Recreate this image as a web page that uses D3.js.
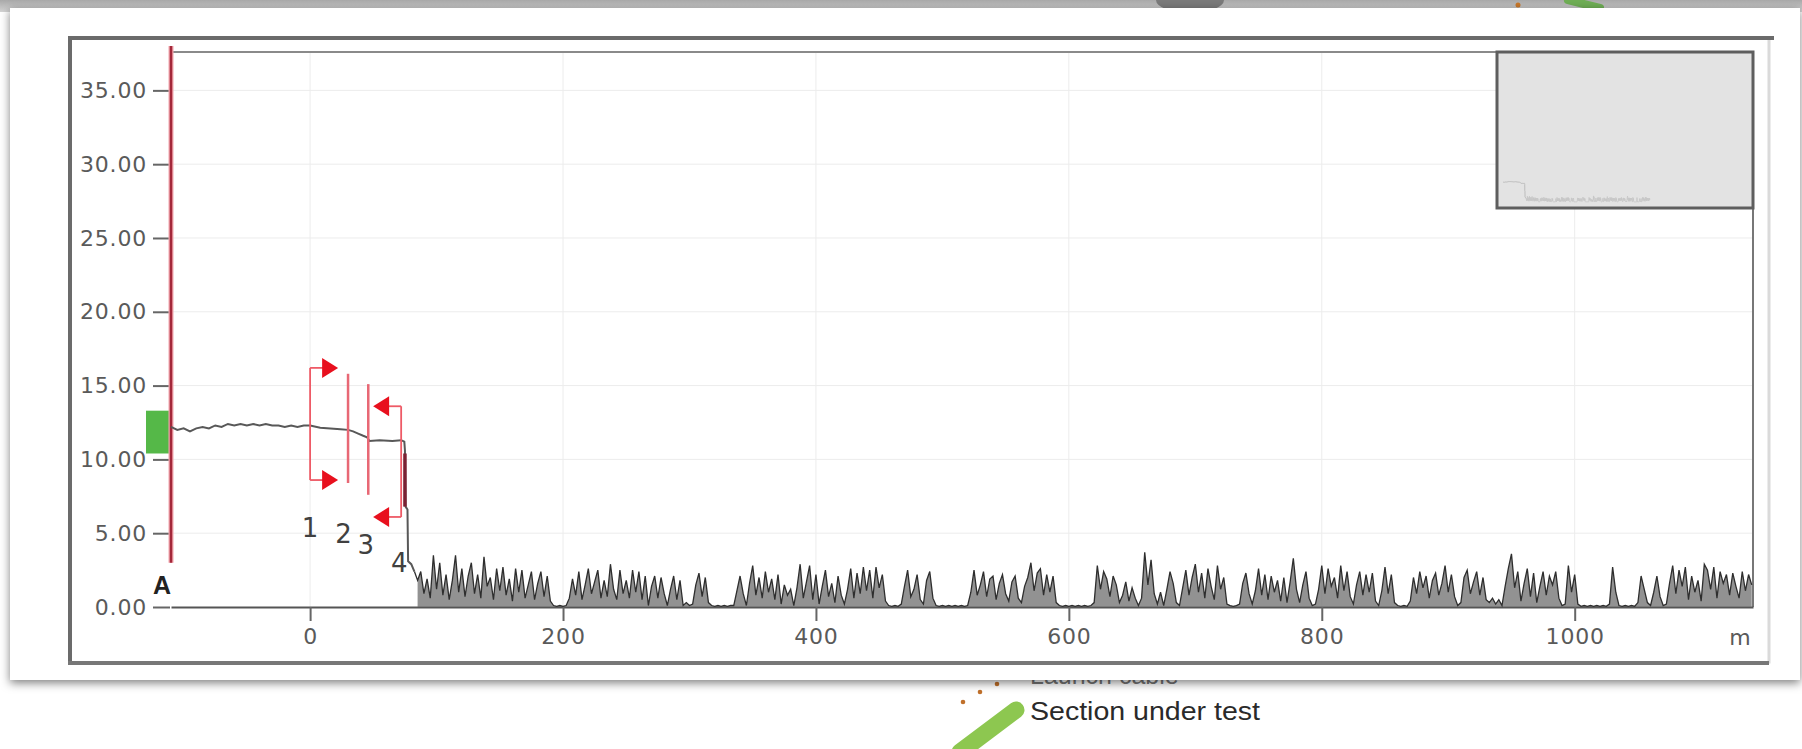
<!DOCTYPE html>
<html>
<head>
<meta charset="utf-8">
<script src="https://cdn.jsdelivr.net/npm/d3@7"></script>
<style>
  body { margin: 0; background: #fff; }
  svg { display: block; }
</style>
</head>
<body>
<script>
const canvWidth = 1802, canvHeight = 749;
const plot = {left: 171, right: 1753, top: 52, bottom: 607};

// axis ticks
const yTicks = [0, 5, 10, 15, 20, 25, 30, 35];
const xTicks = [0, 200, 400, 600, 800, 1000];

// fibre trace (m, dB) up to the end event
const traceX = [-110, -105, -100, -95, -90, -85, -80, -75, -70, -65, -60, -55, -50, -45, -40, -35, -30, -25, -20, -15, -10, -5, 0,
                8, 16, 24, 30, 34, 38, 42, 45, 47, 55, 65, 72, 74.5, 75, 75.5, 77, 77.5, 80, 82.5];
const traceY = [12.2, 12.0, 12.1, 11.9, 12.1, 12.2, 12.1, 12.3, 12.2, 12.4, 12.3, 12.4, 12.3, 12.4, 12.3, 12.4, 12.3, 12.3, 12.2, 12.3, 12.2, 12.3, 12.3,
                12.15, 12.1, 12.05, 12.0, 11.9, 11.75, 11.6, 11.5, 11.25, 11.3, 11.25, 11.3, 11.2, 10.6, 6.8, 6.6, 3.1, 2.9, 2.4];

// noise after the fibre end, one reading every 2.5 m from 85 m
const noiseStart = 85, noiseStep = 2.5;
const noiseY = [
  1.8, 2.4, 0.9, 1.9, 0.6, 3.5, 1.2, 3.0, 0.8, 2.2, 0.5, 1.8, 3.5, 1.0, 2.6, 0.7, 2.1, 3.0, 0.9, 2.2,
  0.6, 3.4, 1.4, 2.0, 0.5, 2.6, 1.1, 2.7, 0.8, 1.9, 0.4, 2.6, 1.0, 2.5, 0.6, 1.5, 2.4, 0.5, 1.6, 2.4,
  0.7, 2.1, 0.4, 0.1, 0.05, 0.1, 0.05, 0.1, 0.6, 1.9, 0.8, 2.4, 0.5, 1.5, 2.6, 0.9, 1.7, 2.5, 0.6, 1.8,
  0.7, 2.9, 1.2, 0.5, 2.5, 0.9, 1.8, 0.6, 2.5, 1.0, 2.4, 0.5, 2.1, 0.1, 1.4, 2.1, 0.6, 2.0, 0.9, 0.1,
  1.2, 2.1, 0.5, 1.8, 0.1, 0.3, 0.1, 0.2, 1.5, 2.3, 0.7, 2.0, 0.3, 0.1, 0.05, 0.1, 0.05, 0.1, 0.05, 0.1,
  0.1, 1.1, 2.1, 0.9, 0.1, 1.6, 2.8, 0.8, 2.0, 0.6, 2.4, 1.0, 1.9, 0.5, 2.2, 0.2, 1.5, 0.8, 1.2, 0.1,
  1.3, 2.9, 0.6, 1.7, 2.8, 0.5, 2.2, 0.2, 1.4, 2.5, 0.7, 1.6, 0.3, 2.1, 0.8, 0.2, 1.2, 2.6, 0.6, 2.3,
  0.9, 2.7, 1.1, 2.5, 0.6, 2.7, 1.3, 2.2, 0.4, 0.1, 0.05, 0.1, 0.05, 0.2, 1.4, 2.5, 0.7, 1.2, 2.2, 0.5,
  0.2, 1.8, 2.4, 0.6, 0.1, 0.05, 0.1, 0.05, 0.1, 0.05, 0.1, 0.05, 0.1, 0.05, 0.1, 1.0, 2.5, 0.8, 1.5, 2.4,
  0.7, 1.9, 2.1, 0.5, 1.6, 2.2, 0.9, 0.4, 1.7, 2.1, 0.6, 0.3, 1.4, 2.0, 3.0, 1.1, 2.3, 2.6, 0.8, 2.2,
  1.0, 2.1, 0.3, 0.1, 0.05, 0.1, 0.05, 0.1, 0.05, 0.1, 0.05, 0.1, 0.05, 0.1, 0.3, 2.8, 1.2, 2.4, 1.9, 0.7,
  2.1, 1.5, 0.3, 0.8, 1.7, 0.4, 1.3, 0.6, 0.1, 0.6, 3.7, 1.5, 3.2, 0.9, 0.2, 1.0, 0.1, 1.2, 2.4, 1.6,
  0.3, 0.1, 1.3, 2.5, 0.8, 2.0, 2.9, 1.0, 2.3, 0.6, 2.6, 1.4, 0.5, 2.8, 1.2, 2.0, 0.2, 0.1, 0.05, 0.1,
  0.2, 1.6, 2.3, 0.9, 0.2, 1.1, 2.6, 0.8, 2.2, 0.5, 2.1, 1.0, 1.8, 0.4, 2.0, 0.3, 1.7, 3.3, 1.2, 0.3,
  1.5, 2.4, 0.6, 0.1, 0.2, 1.2, 2.8, 0.9, 2.6, 1.4, 2.0, 0.6, 2.8, 1.1, 2.4, 0.7, 0.2, 1.5, 2.4, 0.8,
  2.2, 1.0, 2.3, 0.4, 0.1, 1.1, 2.7, 0.9, 2.2, 0.3, 0.1, 0.05, 0.1, 0.05, 0.4, 2.0, 0.9, 2.4, 1.3, 2.1,
  0.6, 1.8, 2.3, 0.8, 1.6, 2.8, 1.0, 2.2, 0.7, 0.1, 0.3, 2.0, 2.5, 0.9, 1.7, 2.4, 0.8, 2.0, 0.5, 0.3,
  0.6, 0.2, 0.5, 0.1, 1.4, 2.6, 3.6, 1.3, 2.4, 0.4, 1.6, 2.6, 0.7, 2.3, 0.3, 1.4, 2.4, 0.8, 2.1, 1.5,
  2.4, 0.6, 0.1, 0.2, 2.8, 1.0, 2.2, 0.2, 0.05, 0.1, 0.05, 0.1, 0.05, 0.1, 0.05, 0.1, 0.05, 0.2, 2.7, 1.0,
  0.1, 0.05, 0.1, 0.05, 0.1, 0.05, 0.3, 2.1, 1.2, 0.3, 0.1, 1.0, 2.1, 0.7, 0.1, 0.2, 1.6, 2.8, 0.9, 2.5,
  1.4, 2.7, 0.5, 2.1, 1.0, 1.8, 0.4, 2.9, 2.5, 1.2, 2.7, 0.6, 2.4, 1.6, 2.2, 0.8, 2.3, 1.4, 0.6, 2.4,
  1.1, 2.2, 1.5
];

// event markers
const markerX = [0, 30, 46, 72];
const markerTop = [16.2, 15.8, 15.1, 13.6];
const markerBottom = [8.6, 8.4, 7.6, 6.1];
const markerType = ["open", "line", "line", "close"];
const labelText = ["1", "2", "3", "4"];
const labelX = [0, 26.5, 44, 70.5];
const labelY = [5.4, 5.0, 4.2, 3.0];

// launch marker box (dB) and end event segment
const launchBox = [10.4, 13.3];
const endEventX = 75, endEventY = [10.4, 6.8];

const svg = d3.select("body").append("svg")
    .attr("width", canvWidth)
    .attr("height", canvHeight);

const defs = svg.append("defs");
const grad = defs.append("linearGradient").attr("id", "strip").attr("x1", 0).attr("y1", 0).attr("x2", 0).attr("y2", 1);
grad.append("stop").attr("offset", 0).attr("stop-color", "#a9a9a9");
grad.append("stop").attr("offset", 1).attr("stop-color", "#d4d4d4");
const shadow = defs.append("filter").attr("id", "shadow")
    .attr("x", "-5%").attr("y", "-5%").attr("width", "110%").attr("height", "115%");
shadow.append("feDropShadow").attr("dx", 0).attr("dy", 3).attr("stdDeviation", 5)
    .attr("flood-color", "#000").attr("flood-opacity", 0.5);

// page behind the card
svg.append("rect").attr("width", canvWidth).attr("height", 12).attr("fill", "url(#strip)");
svg.append("ellipse").attr("cx", 1190).attr("cy", 0).attr("rx", 34).attr("ry", 13).attr("fill", "#7a7a7a");
svg.append("circle").attr("cx", 1518).attr("cy", 5).attr("r", 2.5).attr("fill", "#c8782a");
svg.append("line").attr("x1", 1568).attr("y1", 0).attr("x2", 1600).attr("y2", 8)
    .attr("stroke", "#6fae55").attr("stroke-width", 8).attr("stroke-linecap", "round");

svg.append("text").attr("x", 1030).attr("y", 684)
    .attr("font-family", "Liberation Sans, Arial, sans-serif").attr("font-size", "25px")
    .attr("fill", "#777").text("Launch cable");
svg.append("line").attr("x1", 960).attr("y1", 752).attr("x2", 1016).attr("y2", 710)
    .attr("stroke", "#8dc750").attr("stroke-width", 17).attr("stroke-linecap", "round");
[[963, 702], [980, 692], [997, 684]].forEach(p =>
    svg.append("circle").attr("cx", p[0]).attr("cy", p[1]).attr("r", 2.3).attr("fill", "#c0702a"));
svg.append("text").attr("x", 1030).attr("y", 720)
    .attr("font-family", "Liberation Sans, Arial, sans-serif").attr("font-size", "25px")
    .attr("textLength", 230).attr("lengthAdjust", "spacingAndGlyphs")
    .attr("fill", "#2a2a2a").text("Section under test");

// white card
svg.append("rect").attr("x", 10).attr("y", 8).attr("width", 1790).attr("height", 672)
    .attr("fill", "#fff").attr("filter", "url(#shadow)");

// outer frame
const frame = svg.append("g").attr("stroke-linecap", "square");
frame.append("line").attr("x1", 1769).attr("y1", 40).attr("x2", 1769).attr("y2", 662).attr("stroke", "#dadada").attr("stroke-width", 3);
frame.append("line").attr("x1", 70).attr("y1", 38).attr("x2", 1772).attr("y2", 38).attr("stroke", "#6b6b6b").attr("stroke-width", 4);
frame.append("line").attr("x1", 70).attr("y1", 38).attr("x2", 70).attr("y2", 663).attr("stroke", "#6b6b6b").attr("stroke-width", 4);
frame.append("line").attr("x1", 70).attr("y1", 663).attr("x2", 1767).attr("y2", 663).attr("stroke", "#777").attr("stroke-width", 4);

const x = d3.scaleLinear().domain([-110, 1141]).range([plot.left, plot.right]);
const y = d3.scaleLinear().domain([0, 37.6]).range([plot.bottom, plot.top]);

// grid
const grid = svg.append("g").attr("stroke", "#ececec").attr("stroke-width", 1);
grid.selectAll(".gx").data(xTicks).enter().append("line")
    .attr("x1", d => x(d)).attr("x2", d => x(d)).attr("y1", plot.top).attr("y2", plot.bottom);
grid.selectAll(".gy").data(yTicks.slice(1)).enter().append("line")
    .attr("y1", d => y(d)).attr("y2", d => y(d)).attr("x1", plot.left).attr("x2", plot.right);

// plot border
svg.append("line").attr("x1", plot.left).attr("x2", plot.right).attr("y1", plot.top).attr("y2", plot.top)
    .attr("stroke", "#8a8a8a").attr("stroke-width", 2);
svg.append("line").attr("x1", plot.right).attr("x2", plot.right).attr("y1", plot.top).attr("y2", plot.bottom)
    .attr("stroke", "#777").attr("stroke-width", 2);

// inset overview
svg.append("rect").attr("x", 1497).attr("y", plot.top).attr("width", plot.right - 1497).attr("height", 156)
    .attr("fill", "#e3e3e3").attr("stroke", "#5e5e5e").attr("stroke-width", 3);
const ix = d3.scaleLinear().domain([-110, 1141]).range([1503, 1650]);
const iy = d3.scaleLinear().domain([0, 37.6]).range([202, 140]);
svg.append("path").datum(traceX.map((d, i) => [d, traceY[i]]))
    .attr("fill", "none").attr("stroke", "#bcbcbc").attr("stroke-width", 1)
    .attr("d", d3.line().x(d => ix(d[0])).y(d => iy(d[1])));
svg.append("path").datum(noiseY.map((v, i) => [noiseStart + i * noiseStep, v]))
    .attr("fill", "none").attr("stroke", "#c6c6c6").attr("stroke-width", 0.8)
    .attr("d", d3.line().x(d => ix(d[0])).y(d => iy(d[1])));

// axes
const fontAxis = "DejaVu Sans, Verdana, sans-serif";
const yAxis = svg.append("g").attr("transform", `translate(${plot.left - 1},0)`)
    .call(d3.axisLeft(y).tickValues(yTicks).tickFormat(d3.format(".2f")).tickSize(17).tickSizeOuter(0).tickPadding(6));
yAxis.select(".domain").remove();
yAxis.selectAll("line").attr("stroke", "#666").attr("stroke-width", 2);
yAxis.selectAll("text").attr("font-family", fontAxis).attr("font-size", "22px")
    .attr("letter-spacing", "0.8px").attr("fill", "#5a5a5a");

const xAxis = svg.append("g").attr("transform", `translate(0,${plot.bottom})`)
    .call(d3.axisBottom(x).tickValues(xTicks).tickFormat(d3.format("d")).tickSize(14).tickSizeOuter(0).tickPadding(7));
xAxis.select(".domain").attr("stroke", "#555").attr("stroke-width", 2);
xAxis.selectAll("line").attr("stroke", "#666").attr("stroke-width", 2);
xAxis.selectAll("text").attr("font-family", fontAxis).attr("font-size", "22px")
    .attr("letter-spacing", "0.8px").attr("fill", "#5a5a5a");
svg.append("text").attr("x", 1740).attr("y", 645).attr("text-anchor", "middle")
    .attr("font-family", fontAxis).attr("font-size", "22px").attr("fill", "#5a5a5a").text("m");

// launch box and start cursor
svg.append("rect").attr("x", plot.left - 25).attr("width", 23)
    .attr("y", y(launchBox[1])).attr("height", y(launchBox[0]) - y(launchBox[1]))
    .attr("fill", "#55b848");
svg.append("line").attr("x1", x(-110)).attr("x2", x(-110)).attr("y1", plot.top - 6).attr("y2", y(3.0))
    .attr("stroke", "#f2a5ad").attr("stroke-width", 5);
svg.append("line").attr("x1", x(-110)).attr("x2", x(-110)).attr("y1", plot.top - 6).attr("y2", y(3.0))
    .attr("stroke", "#a3283a").attr("stroke-width", 2.5);
svg.append("text").attr("x", x(-110) - 9).attr("y", y(1.5)).attr("dy", "0.36em")
    .attr("text-anchor", "middle").attr("font-family", "Liberation Sans, Arial, sans-serif")
    .attr("font-weight", "bold").attr("font-size", "25px").attr("fill", "#222").text("A");

// noise floor
const noiseData = noiseY.map((v, i) => [noiseStart + i * noiseStep, v]);
svg.append("path").datum(noiseData)
    .attr("fill", "#6e6e6e").attr("fill-opacity", 0.75)
    .attr("d", d3.area().x(d => x(d[0])).y0(y(0)).y1(d => y(d[1])));
svg.append("path").datum([[traceX[traceX.length - 1], traceY[traceY.length - 1]]].concat(noiseData))
    .attr("fill", "none").attr("stroke", "#2e2e2e").attr("stroke-width", 1.3)
    .attr("d", d3.line().x(d => x(d[0])).y(d => y(d[1])));

// fibre trace
svg.append("path").datum(traceX.map((d, i) => [d, traceY[i]]))
    .attr("fill", "none").attr("stroke", "#585858").attr("stroke-width", 2)
    .attr("d", d3.line().x(d => x(d[0])).y(d => y(d[1])));
svg.append("line").attr("x1", x(endEventX)).attr("x2", x(endEventX))
    .attr("y1", y(endEventY[0])).attr("y2", y(endEventY[1]))
    .attr("stroke", "#7a2233").attr("stroke-width", 3.5);

// event markers
const red = "#e8101e";
const markers = svg.append("g");
markerX.forEach((m, i) => {
    const mx = x(m), t = y(markerTop[i]), b = y(markerBottom[i]);
    const type = markerType[i];
    markers.append("line").attr("x1", mx).attr("x2", mx).attr("y1", t).attr("y2", b)
        .attr("stroke", type === "line" ? "#e86875" : "#ee5a66").attr("stroke-width", type === "line" ? 2.5 : 1.8);
    if (type !== "line") {
        const dir = type === "open" ? 1 : -1;
        [t, b].forEach(yy => {
            markers.append("line").attr("x1", mx).attr("x2", mx + dir * 14).attr("y1", yy).attr("y2", yy)
                .attr("stroke", "#ee5a66").attr("stroke-width", 1.8);
            markers.append("path")
                .attr("d", `M${mx + dir * 28},${yy} L${mx + dir * 12},${yy - 10} L${mx + dir * 12},${yy + 10} Z`)
                .attr("fill", red);
        });
    }
});
svg.selectAll(".evlabel").data(labelText).enter().append("text")
    .attr("x", (d, i) => x(labelX[i])).attr("y", (d, i) => y(labelY[i])).attr("dy", "0.36em")
    .attr("text-anchor", "middle").attr("font-family", fontAxis).attr("font-size", "26px")
    .attr("fill", "#404040").text(d => d);
</script>
</body>
</html>
